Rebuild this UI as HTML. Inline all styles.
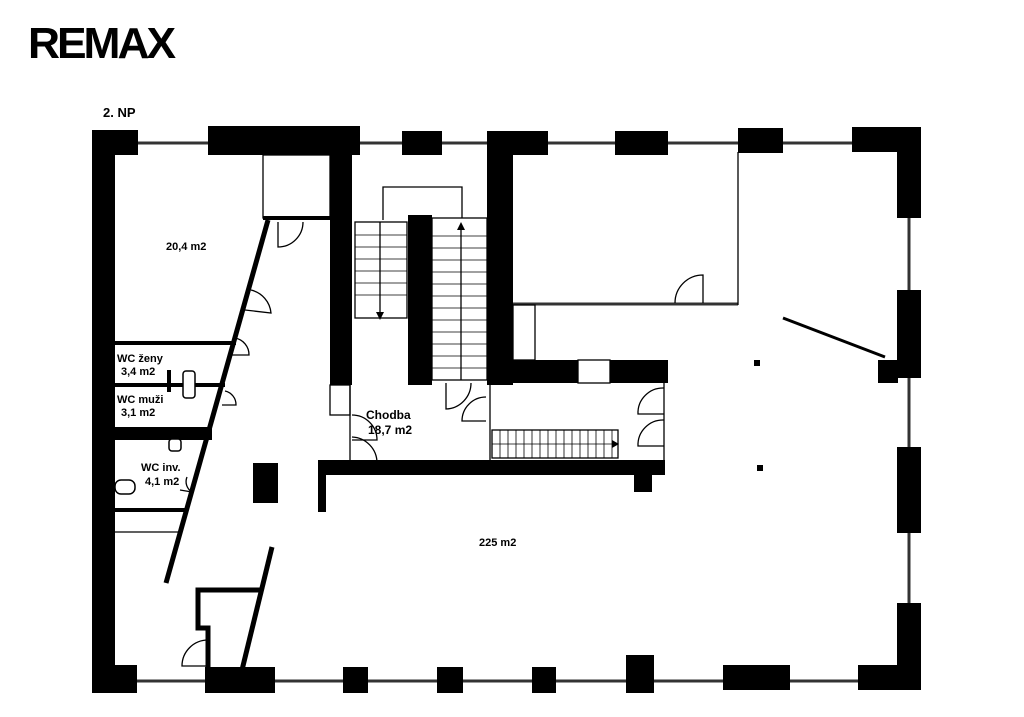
<!DOCTYPE html>
<html><head><meta charset="utf-8"><style>
html,body{margin:0;padding:0;background:#fff;}
svg{display:block;}
text{font-family:"Liberation Sans",sans-serif;font-weight:bold;fill:#000;}
</style></head><body>
<svg width="1024" height="717" viewBox="0 0 1024 717" xmlns="http://www.w3.org/2000/svg">
<rect width="1024" height="717" fill="#fff"/>
<text x="28" y="58" font-size="44" style="letter-spacing:-3px" textLength="145" lengthAdjust="spacingAndGlyphs">REMAX</text>
<text x="103" y="117" font-size="13">2. NP</text>

<g stroke="#333" stroke-width="3" fill="none">
<line x1="138" y1="143" x2="208" y2="143"/>
<line x1="360" y1="143" x2="402" y2="143"/>
<line x1="442" y1="143" x2="487" y2="143"/>
<line x1="548" y1="143" x2="615" y2="143"/>
<line x1="668" y1="143" x2="738" y2="143"/>
<line x1="783" y1="143" x2="852" y2="143"/>
<line x1="909" y1="218" x2="909" y2="290"/>
<line x1="909" y1="378" x2="909" y2="447"/>
<line x1="909" y1="533" x2="909" y2="603"/>
<line x1="137" y1="681" x2="205" y2="681"/>
<line x1="275" y1="681" x2="343" y2="681"/>
<line x1="368" y1="681" x2="437" y2="681"/>
<line x1="463" y1="681" x2="532" y2="681"/>
<line x1="556" y1="681" x2="626" y2="681"/>
<line x1="654" y1="681" x2="723" y2="681"/>
<line x1="790" y1="681" x2="858" y2="681"/>
<line x1="513" y1="304" x2="738" y2="304"/>
</g>

<g fill="#000">
<rect x="92" y="130" width="46" height="25"/>
<rect x="92" y="130" width="23" height="563"/>
<rect x="92" y="665" width="45" height="28"/>
<rect x="208" y="126" width="152" height="29"/>
<rect x="330" y="130" width="22" height="255"/>
<rect x="402" y="131" width="40" height="24"/>
<rect x="487" y="131" width="61" height="24"/>
<rect x="487" y="131" width="26" height="254"/>
<rect x="615" y="131" width="53" height="24"/>
<rect x="738" y="128" width="45" height="25"/>
<rect x="852" y="127" width="69" height="25"/>
<rect x="897" y="127" width="24" height="91"/>
<rect x="897" y="290" width="24" height="88"/>
<rect x="878" y="360" width="20" height="23"/>
<rect x="897" y="447" width="24" height="86"/>
<rect x="897" y="603" width="24" height="87"/>
<rect x="858" y="665" width="63" height="25"/>
<rect x="205" y="667" width="70" height="26"/>
<rect x="343" y="667" width="25" height="26"/>
<rect x="437" y="667" width="26" height="26"/>
<rect x="532" y="667" width="24" height="26"/>
<rect x="626" y="655" width="28" height="38"/>
<rect x="723" y="665" width="67" height="25"/>
<rect x="408" y="215" width="24" height="170"/>
<rect x="487" y="360" width="91" height="23"/>
<rect x="610" y="360" width="58" height="23"/>
<rect x="318" y="460" width="347" height="15"/>
<rect x="318" y="460" width="8" height="52"/>
<rect x="634" y="475" width="18" height="17"/>
<rect x="253" y="463" width="25" height="40"/>
<rect x="263" y="216" width="67" height="4"/>
<rect x="115" y="427" width="97" height="13"/>
<rect x="115" y="341" width="121" height="4"/>
<rect x="115" y="383" width="110" height="4"/>
<rect x="115" y="508" width="72" height="4"/>
<rect x="167" y="370" width="4" height="22"/>
<rect x="754" y="360" width="6" height="6"/>
<rect x="757" y="465" width="6" height="6"/>
</g>

<g stroke="#000" stroke-width="1.3" fill="none">
<rect x="263" y="155" width="67" height="63"/>
<rect x="330" y="385" width="20" height="30"/>
<line x1="350" y1="385" x2="350" y2="460"/>
<line x1="490" y1="383" x2="490" y2="460"/>
<line x1="664" y1="383" x2="664" y2="460"/>
<line x1="738" y1="152" x2="738" y2="305"/>
<rect x="513" y="305" width="22" height="55"/>
<rect x="578" y="360" width="32" height="23"/>
<line x1="115" y1="532" x2="180" y2="532"/>
<polyline points="383,220 383,187 462,187 462,218"/>
<rect x="355" y="222" width="52" height="96"/>
<rect x="432" y="218" width="55" height="162"/>
<rect x="492" y="430" width="126" height="28"/>
<line x1="380" y1="222" x2="380" y2="312"/>
<line x1="461" y1="230" x2="461" y2="380"/>
<path d="M278,222 v25 a25,25 0 0 0 25,-25"/>
<path d="M245,310 l26,3 a26,26 0 0 0 -20,-23"/>
<path d="M232,355 l17,0 a17,17 0 0 0 -14,-17"/>
<path d="M222,405 l14,0 a14,14 0 0 0 -11,-14"/>
<path d="M180,490 l12,2 a12,12 0 0 1 -5,-15"/>
<path d="M352,415 a25,25 0 0 1 25,25 h-25"/>
<path d="M352,437 a26,26 0 0 1 25,26"/>
<path d="M446,383 v26 a26,26 0 0 0 25,-26"/>
<path d="M486,397 a24,24 0 0 0 -24,24 h24"/>
<path d="M664,388 a25,25 0 0 0 -26,26 h26"/>
<path d="M664,420 a25,25 0 0 0 -26,26 h26"/>
<path d="M703,303 v-28 a28,28 0 0 0 -28,28"/>
<path d="M208,640 a26,26 0 0 0 -26,26 h26"/>
</g>
<g stroke="#000" stroke-width="0.8">
<line x1="355" y1="235" x2="407" y2="235"/><line x1="355" y1="247" x2="407" y2="247"/><line x1="355" y1="259" x2="407" y2="259"/><line x1="355" y1="271" x2="407" y2="271"/><line x1="355" y1="283" x2="407" y2="283"/><line x1="355" y1="295" x2="407" y2="295"/>
<line x1="432" y1="236" x2="487" y2="236"/><line x1="432" y1="248" x2="487" y2="248"/><line x1="432" y1="260" x2="487" y2="260"/><line x1="432" y1="272" x2="487" y2="272"/><line x1="432" y1="284" x2="487" y2="284"/><line x1="432" y1="296" x2="487" y2="296"/><line x1="432" y1="308" x2="487" y2="308"/><line x1="432" y1="320" x2="487" y2="320"/><line x1="432" y1="332" x2="487" y2="332"/><line x1="432" y1="344" x2="487" y2="344"/><line x1="432" y1="356" x2="487" y2="356"/><line x1="432" y1="368" x2="487" y2="368"/>
<line x1="500" y1="430" x2="500" y2="458"/><line x1="508" y1="430" x2="508" y2="458"/><line x1="516" y1="430" x2="516" y2="458"/><line x1="524" y1="430" x2="524" y2="458"/><line x1="532" y1="430" x2="532" y2="458"/><line x1="540" y1="430" x2="540" y2="458"/><line x1="548" y1="430" x2="548" y2="458"/><line x1="556" y1="430" x2="556" y2="458"/><line x1="564" y1="430" x2="564" y2="458"/><line x1="572" y1="430" x2="572" y2="458"/><line x1="580" y1="430" x2="580" y2="458"/><line x1="588" y1="430" x2="588" y2="458"/><line x1="596" y1="430" x2="596" y2="458"/><line x1="604" y1="430" x2="604" y2="458"/><line x1="612" y1="430" x2="612" y2="458"/>
<line x1="492" y1="444" x2="618" y2="444"/>
</g>
<polygon points="376,312 384,312 380,320" fill="#000"/>
<polygon points="457,230 465,230 461,222" fill="#000"/>
<polygon points="612,440 612,448 619,444" fill="#000"/>

<g stroke="#000" stroke-width="5" fill="none">
<line x1="268" y1="220" x2="166" y2="583"/>
<line x1="272" y1="547" x2="242" y2="670"/>
<polyline points="262,590 198,590 198,628 208,628 208,667"/>
</g>
<line x1="783" y1="318" x2="885" y2="357" stroke="#000" stroke-width="3"/>

<g stroke="#000" stroke-width="1.5" fill="#fff">
<rect x="183" y="371" width="12" height="27" rx="3"/>
<rect x="169" y="439" width="12" height="12" rx="3"/>
<rect x="115" y="480" width="20" height="14" rx="6"/>
</g>

<text x="166" y="250" font-size="11">20,4 m2</text>
<text x="117" y="362" font-size="11">WC ženy</text>
<text x="121" y="375" font-size="11">3,4 m2</text>
<text x="117" y="403" font-size="11">WC muži</text>
<text x="121" y="416" font-size="11">3,1 m2</text>
<text x="141" y="471" font-size="11">WC inv.</text>
<text x="145" y="485" font-size="11">4,1 m2</text>
<text x="366" y="419" font-size="12">Chodba</text>
<text x="368" y="434" font-size="12">18,7 m2</text>
<text x="479" y="546" font-size="11">225 m2</text>
</svg>
</body></html>
